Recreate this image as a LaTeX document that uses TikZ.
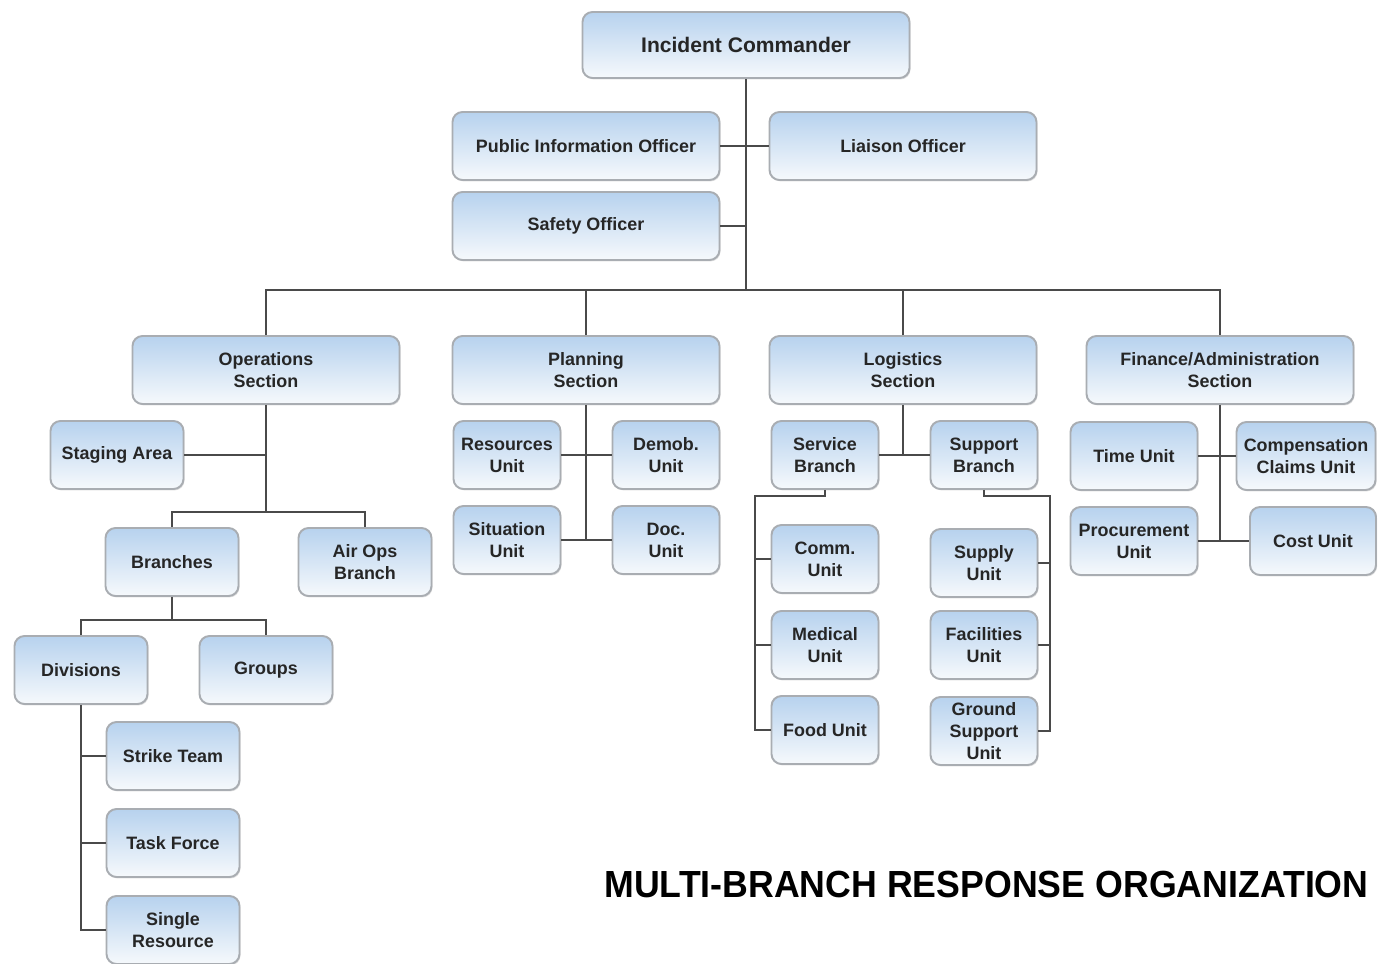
\documentclass[tikz,border=0pt]{standalone}
\usepackage{fontspec}
\usepackage{graphicx}
\setmainfont{Liberation Sans}
\usetikzlibrary{shadows}
\definecolor{boxtop}{HTML}{B7D2EE}
\definecolor{boxbot}{HTML}{F6F9FC}
\definecolor{boxline}{HTML}{A9ADB2}
\definecolor{conncol}{HTML}{4A4A4A}
\definecolor{txtcol}{HTML}{262626}
\tikzset{
  orgbox/.style={rectangle, rounded corners=0.2cm, draw=boxline, line width=1.1pt,
    top color=boxtop, bottom color=boxbot, inner sep=0pt, align=center,
    text=txtcol, font=\fontsize{10.2}{12.6}\selectfont\bfseries,
    minimum height=68*0.02cm,
    drop shadow={shadow xshift=0.6pt, shadow yshift=-0.8pt, opacity=0.25}},
  bw/.style={minimum width=#1*0.02cm},
  conn/.style={draw=conncol, line width=0.85pt}
}
\begin{document}
\begin{tikzpicture}[x=0.02cm, y=-0.02cm]
\useasboundingbox (0,0) rectangle (1378,963);
\clip (0,0) rectangle (1378,963);
\fill[white] (0,0) rectangle (1378,963);

% top
\node[orgbox, bw=327, minimum height=66*0.02cm, font=\fontsize{12}{14}\selectfont\bfseries] (ic) at (746,45) {Incident Commander};
\node[orgbox, bw=267] (pio) at (586,146) {Public Information Officer};
\node[orgbox, bw=267] (lia) at (903,146) {Liaison Officer};
\node[orgbox, bw=267] (saf) at (586,226) {Safety Officer};

% sections
\node[orgbox, bw=267] (ops) at (266,370) {Operations\\Section};
\node[orgbox, bw=267] (plan) at (586,370) {Planning\\Section};
\node[orgbox, bw=267] (log) at (903,370) {Logistics\\Section};
\node[orgbox, bw=267] (fin) at (1220,370) {Finance/Administration\\Section};

% operations
\node[orgbox, bw=133] (stg) at (117,455) {Staging Area};
\node[orgbox, bw=133] (br) at (172,562) {Branches};
\node[orgbox, bw=133] (air) at (365,562) {Air Ops\\Branch};
\node[orgbox, bw=133] (div) at (81,670) {Divisions};
\node[orgbox, bw=133] (grp) at (266,670) {Groups};
\node[orgbox, bw=133] (st) at (173,756) {Strike Team};
\node[orgbox, bw=133] (tf) at (173,843) {Task Force};
\node[orgbox, bw=133] (sr) at (173,930) {Single\\Resource};

% planning
\node[orgbox, bw=107] (res) at (507,455) {Resources\\Unit};
\node[orgbox, bw=107] (dem) at (666,455) {Demob.\\Unit};
\node[orgbox, bw=107] (sit) at (507,540) {Situation\\Unit};
\node[orgbox, bw=107] (doc) at (666,540) {Doc.\\Unit};

% logistics
\node[orgbox, bw=107] (svc) at (825,455) {Service\\Branch};
\node[orgbox, bw=107] (sup) at (984,455) {Support\\Branch};
\node[orgbox, bw=107] (comm) at (825,559) {Comm.\\Unit};
\node[orgbox, bw=107] (med) at (825,645) {Medical\\Unit};
\node[orgbox, bw=107] (food) at (825,730) {Food Unit};
\node[orgbox, bw=107] (sply) at (984,563) {Supply\\Unit};
\node[orgbox, bw=107] (fac) at (984,645) {Facilities\\Unit};
\node[orgbox, bw=107] (gsu) at (984,731) {Ground\\Support\\Unit};

% finance
\node[orgbox, bw=127] (time) at (1134,456) {Time Unit};
\node[orgbox, bw=139] (comp) at (1306,456) {Compensation\\Claims Unit};
\node[orgbox, bw=127] (proc) at (1134,541) {Procurement\\Unit};
\node[orgbox, bw=126] (cost) at (1313,541) {Cost Unit};

% title
\node[anchor=base west, inner sep=0pt, font=\fontsize{21.5}{24}\selectfont\bfseries, text=black] (title) at (604,897) {\scalebox{0.945}[1]{MULTI-BRANCH RESPONSE ORGANIZATION}};

% coordinates
\coordinate (bus) at (746,290);
\coordinate (opsj) at (266,512);
\coordinate (brj) at (172,620);
\coordinate (svcx) at (755,496);
\coordinate (supx) at (1050,496);

% connectors top
\draw[conn] (ic.south) -- (bus);
\draw[conn] (pio.east) -- (lia.west);
\draw[conn] (saf.east) -- (saf.east -| ic.south);
\draw[conn] (ops.north) |- (bus) -| (fin.north);
\draw[conn] (plan.north) -- (plan.north |- bus);
\draw[conn] (log.north) -- (log.north |- bus);

% operations
\draw[conn] (ops.south) -- (opsj);
\draw[conn] (stg.east) -- (stg.east -| ops.south);
\draw[conn] (br.north) |- (opsj) -| (air.north);
\draw[conn] (br.south) -- (brj);
\draw[conn] (div.north) |- (brj) -| (grp.north);
\draw[conn] (div.south) |- (sr.west);
\draw[conn] (st.west) -- (st.west -| div.south);
\draw[conn] (tf.west) -- (tf.west -| div.south);

% planning
\draw[conn] (plan.south) -- (plan.south |- sit.east);
\draw[conn] (res.east) -- (dem.west);
\draw[conn] (sit.east) -- (doc.west);

% logistics
\draw[conn] (log.south) -- (log.south |- svc.east);
\draw[conn] (svc.east) -- (sup.west);
\draw[conn] (svc.south) |- (svcx) |- (food.west);
\draw[conn] (comm.west) -- (comm.west -| svcx);
\draw[conn] (med.west) -- (med.west -| svcx);
\draw[conn] (sup.south) |- (supx) |- (gsu.east);
\draw[conn] (sply.east) -- (sply.east -| supx);
\draw[conn] (fac.east) -- (fac.east -| supx);

% finance
\draw[conn] (fin.south) -- (fin.south |- proc.east);
\draw[conn] (time.east) -- (comp.west);
\draw[conn] (proc.east) -- (cost.west);
\end{tikzpicture}
\end{document}
